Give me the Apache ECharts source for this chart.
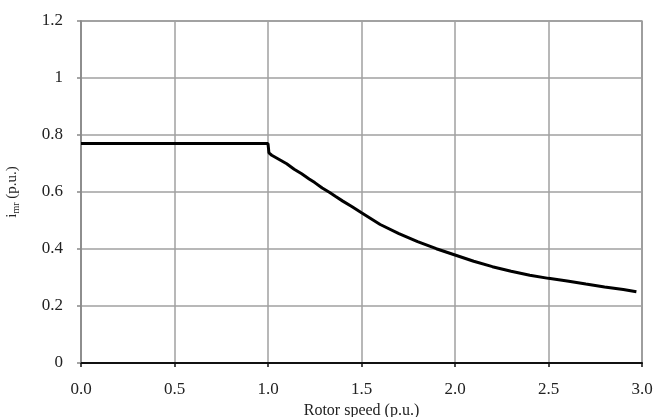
<!DOCTYPE html>
<html>
<head>
<meta charset="utf-8">
<script src="https://cdn.jsdelivr.net/npm/echarts@6/dist/echarts.min.js"></script>
<style>
  html, body { margin: 0; padding: 0; background: #fff; }
  #chart { width: 657px; height: 417px; }
</style>
</head>
<body>
<div id="chart"></div>
<script>
// Rotor speed (p.u.) and magnetising current i_mr (p.u.)
const rotorSpeed = [0.0, 1.0, 1.005, 1.02, 1.06, 1.10, 1.14, 1.18, 1.22, 1.25, 1.29, 1.33, 1.36, 1.40, 1.45, 1.50,
  1.60, 1.70, 1.80, 1.90, 2.00, 2.10, 2.20, 2.30, 2.40, 2.50, 2.60, 2.70, 2.80, 2.90, 2.97];
const imr = [0.770, 0.770, 0.737, 0.729, 0.714, 0.699, 0.680, 0.664, 0.646, 0.633, 0.614, 0.598, 0.585, 0.568, 0.548, 0.527,
  0.486, 0.454, 0.426, 0.401, 0.379, 0.357, 0.338, 0.322, 0.308, 0.297, 0.288, 0.277, 0.267, 0.258, 0.250];
const xTicks = [0, 0.5, 1.0, 1.5, 2.0, 2.5, 3.0];
const yTicks = [0, 0.2, 0.4, 0.6, 0.8, 1, 1.2];

const points = rotorSpeed.map((x, i) => [x, imr[i]]);
const font = '"Liberation Serif", "DejaVu Serif", serif';

const chart = echarts.init(document.getElementById('chart'), null, { renderer: 'canvas' });
chart.setOption({
  animation: false,
  backgroundColor: '#fff',
  grid: {
    left: 81, right: 15, top: 21, bottom: 54,
    containLabel: false, outerBoundsMode: 'none',
    show: true, borderColor: '#555', borderWidth: 1.2
  },
  xAxis: {
    type: 'value',
    min: xTicks[0], max: xTicks[xTicks.length - 1], interval: 0.5,
    name: 'Rotor speed (p.u.)',
    nameLocation: 'middle', nameGap: 40,
    nameTextStyle: { fontFamily: font, fontSize: 16, color: '#222' },
    axisLine: { lineStyle: { color: '#111', width: 2 } },
    axisTick: { show: true, length: 4, lineStyle: { color: '#111', width: 1.5 } },
    axisLabel: { fontFamily: font, fontSize: 17, color: '#222', margin: 18,
      formatter: v => v.toFixed(1) },
    splitLine: { show: true, lineStyle: { color: '#a0a0a0', width: 1.5 } }
  },
  yAxis: {
    type: 'value',
    min: yTicks[0], max: yTicks[yTicks.length - 1], interval: 0.2,
    name: '{i|i}{s|mr}{i| (p.u.)}',
    nameLocation: 'middle', nameGap: 60,
    nameTextStyle: {
      fontFamily: font, fontSize: 15, color: '#222',
      rich: {
        i: { fontFamily: font, fontSize: 15, color: '#222' },
        s: { fontFamily: font, fontSize: 10, color: '#222', padding: [7, 0, 0, 0] }
      }
    },
    axisLine: { show: true, lineStyle: { color: '#888', width: 1.5 } },
    axisTick: { show: true, length: 4, lineStyle: { color: '#888', width: 1.5 } },
    axisLabel: { fontFamily: font, fontSize: 17, color: '#222', margin: 18,
      formatter: v => String(Math.round(v * 10) / 10) },
    splitLine: { show: true, lineStyle: { color: '#a0a0a0', width: 1.5 } }
  },
  series: [{
    type: 'line',
    data: points,
    showSymbol: false,
    smooth: false,
    lineStyle: { color: '#000', width: 3 },
    z: 5
  }]
});
</script>
</body>
</html>
